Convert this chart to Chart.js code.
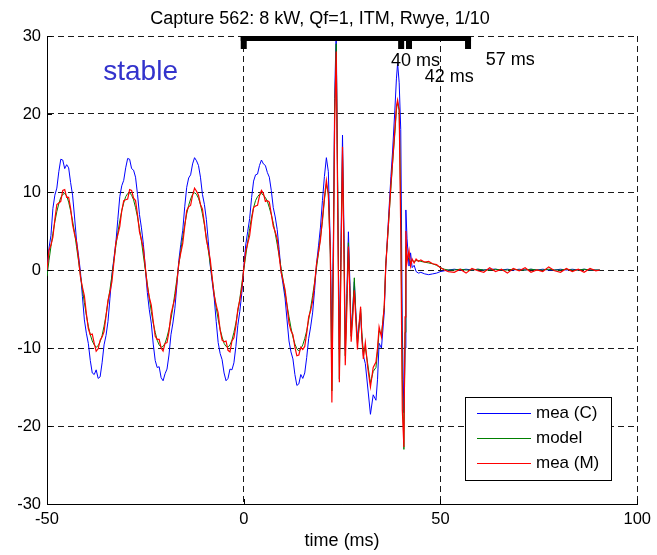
<!DOCTYPE html>
<html><head><meta charset="utf-8">
<script src="https://cdn.jsdelivr.net/npm/chart.js@4.4.0/dist/chart.umd.min.js"></script>
<style>html,body{margin:0;padding:0;background:#fff;overflow:hidden}</style>
</head><body>
<canvas id="c" width="657" height="555"></canvas>
<script>
// ---------------- data ----------------
const timeMs = [
  -50,-49.5,-49,-48.5,-48,-47.5,-47,-46.5,-46,-45.5,
  -45,-44.5,-44,-43.5,-43,-42.5,-42,-41.5,-41,-40.5,
  -40,-39.5,-39,-38.5,-38,-37.5,-37,-36.5,-36,-35.5,
  -35,-34.5,-34,-33.5,-33,-32.5,-32,-31.5,-31,-30.5,
  -30,-29.5,-29,-28.5,-28,-27.5,-27,-26.5,-26,-25.5,
  -25,-24.5,-24,-23.5,-23,-22.5,-22,-21.5,-21,-20.5,
  -20,-19.5,-19,-18.5,-18,-17.5,-17,-16.5,-16,-15.5,
  -15,-14.5,-14,-13.5,-13,-12.5,-12,-11.5,-11,-10.5,
  -10,-9.5,-9,-8.5,-8,-7.5,-7,-6.5,-6,-5.5,
  -5,-4.5,-4,-3.5,-3,-2.5,-2,-1.5,-1,-0.5,
  0,0.5,1,1.5,2,2.5,3,3.5,4,4.5,
  5,5.5,6,6.5,7,7.5,8,8.5,9,9.5,
  10,10.5,11,11.5,12,12.5,13,13.5,14,14.5,
  15,15.5,16,16.5,17,17.5,18,18.5,19,19.5,
  20,
  20.5,21,21.5,22,22.4, 22.8,23.1,23.5,23.9,24.3,
  24.7,25.1,25.5,25.8,26.2, 26.6,27.0,27.3,27.7,28.1,
  28.5,28.9,29.3,29.7,30.0, 30.4,30.9,31.5,32.2,32.9,
  33.6,34.0,34.4,35.0,35.7, 36.1,36.5,37.0,37.4,37.8,
  38.4,38.8,39.1,39.5,39.9, 40.3,40.7,41.0,41.2,41.5,
  42.0,42.4,42.8,43.3,43.8, 44.4,45,46,47,48,
  49,50,51,52,
  53.5,55,56.5,58,59.5,61,62.5,64,65.5,67,
  68.5,70,71.5,73,74.5,76,77.5,79,80.5,82,
  83.5,85,86.5,88,89.5,90.5
];
const meaC = [
  -0.5,2.8,4.4,7.9,9.6,10.5,12.6,14.2,14.1,13.0,
  13.5,13.1,11.2,9.6,6.8,3.8,1.9,-0.2,-3.4,-6.4,
  -8.1,-9.4,-11.6,-13.2,-13.4,-12.8,-13.9,-13.7,-11.9,-9.6,
  -8.4,-6.6,-3.6,-0.6,1.5,3.5,6.5,9.4,10.8,11.5,
  13.1,14.3,14.2,13.0,12.8,11.9,9.7,7.1,5.4,3.3,
  0.2,-2.9,-5.1,-6.8,-9.5,-11.6,-12.5,-12.4,-13.8,-14.2,
  -13.3,-12.7,-10.9,-8.3,-6.8,-4.9,-2.0,1.2,3.3,5.1,
  8.1,10.6,11.8,12.2,13.6,14.4,14.0,13.4,11.9,9.7,
  8.4,6.5,3.6,0.5,-1.6,-3.6,-6.6,-9.3,-10.7,-11.5,
  -13.2,-14.2,-13.9,-12.7,-12.8,-11.9,-9.8,-7.1,-5.3,-3.0,
  0.3,3.2,4.9,6.6,9.3,11.4,12.2,12.3,13.4,14.1,
  13.6,13.4,12.5,11.9,10.2,8.0,6.8,5.2,2.6,-0.2,
  -1.9,-3.6,-6.4,-9.1,-10.5,-11.4,-13.4,-14.8,-14.6,-13.4,
  -13.9,-13.2,-11.2,-8.8,-7.3,-5.5,-2.6,0.8,3.1,5.5,
  8.9,
  12.0,14.4,12.6,3.0,-9.4, 5.0,22.0,31.0,8.0,-10.0,
  3.0,17.3,4.0,-10.3,-3.0, 4.9,-2.0,-8.0,-5.0,-1.5,
  -5.5,-9.0,-7.0,-5.5,-8.5, -11.0,-12.0,-15.0,-18.5,-16.0,
  -16.7,-14.0,-9.4,-10.0,-5.5, 0.5,4.0,8.5,12.0,15.0,
  20.5,24.5,26.5,24.0,18.0, -7.7,-18.3,-10.0,7.7,4.0,
  0.5,2.2,0.3,0.6,-0.2, -0.4,-0.3,-0.5,-0.6,-0.5,
  -0.4,-0.2,-0.1,0.0,
  0.1,0.0,0.1,0.0,0.1,0.0,0.1,0.1,0.0,0.1,
  0.0,0.1,0.0,0.1,0.0,0.1,0.0,0.0,0.1,0.0,
  0.1,0.0,0.1,0.0,0.0,0.0
];
const model = [
  -0.8,1.2,3.0,4.7,6.2,7.5,8.5,9.3,9.7,9.8,
  9.5,8.7,7.6,6.3,4.8,3.0,1.2,-0.7,-2.5,-4.2,
  -5.8,-7.2,-8.3,-9.1,-9.6,-9.9,-9.7,-9.2,-8.4,-7.2,
  -5.8,-4.1,-2.5,-0.7,1.2,3.1,4.8,6.3,7.6,8.6,
  9.4,9.8,9.9,9.6,9.0,8.0,6.8,5.3,3.7,1.8,
  0.0,-1.8,-3.6,-5.3,-6.8,-8.0,-9.0,-9.6,-9.9,-9.8,
  -9.4,-8.6,-7.6,-6.3,-4.8,-3.0,-1.2,0.7,2.5,4.2,
  5.8,7.2,8.3,9.1,9.7,9.9,9.7,9.2,8.4,7.2,
  5.8,4.1,2.5,0.7,-1.2,-3.1,-4.8,-6.3,-7.6,-8.6,
  -9.4,-9.8,-9.9,-9.6,-9.0,-8.0,-6.8,-5.3,-3.7,-1.8,
  0.0,1.8,3.6,5.3,6.8,8.0,8.9,9.4,9.7,9.8,
  9.6,9.3,8.8,8.0,7.1,6.0,4.7,3.3,1.8,0.2,
  -1.3,-2.9,-4.5,-6.0,-7.4,-8.6,-9.5,-10.1,-10.4,-10.1,
  -9.6,-8.8,-7.8,-6.4,-4.9,-3.3,-1.6,0.3,2.2,4.2,
  6.2,
  9.0,11.0,9.8,2.0,-15.5, 3.0,20.0,29.0,10.0,-14.0,
  1.0,15.0,2.0,-11.0,-4.0, 3.5,-3.0,-8.5,-5.5,-1.0,
  -6.0,-9.5,-7.5,-5.0,-8.0, -10.5,-10.0,-12.0,-14.5,-13.0,
  -12.5,-10.5,-7.8,-8.3,-4.8, 0.8,3.5,7.5,10.5,13.5,
  17.5,20.5,21.5,20.5,8.0, -14.0,-23.0,-8.0,3.0,1.5,
  1.5,1.0,1.2,1.1,1.2, 1.2,1.1,1.0,0.9,0.8,
  0.6,0.3,0.1,0.0,
  0.0,0.1,0.0,0.0,0.1,0.0,0.0,0.1,0.0,0.0,
  0.1,0.0,0.0,0.1,0.0,0.0,0.1,0.0,0.0,0.1,
  0.0,0.0,0.1,0.0,0.0,0.0
];
const meaM = [
  0.0,2.5,3.2,4.2,6.5,8.4,8.6,8.8,10.2,10.3,
  9.3,9.3,7.9,5.8,4.6,3.6,1.5,-0.9,-2.2,-3.3,
  -5.6,-7.5,-8.3,-8.2,-9.4,-10.4,-10.1,-9.0,-8.6,-7.9,
  -5.9,-3.9,-2.8,-1.5,1.0,3.5,4.5,5.6,7.6,8.9,
  9.0,9.1,10.3,10.2,9.2,8.9,7.1,4.9,3.9,2.7,
  0.3,-2.1,-3.5,-4.5,-6.6,-8.5,-8.9,-8.9,-10.0,-10.4,
  -9.4,-9.3,-7.9,-5.7,-4.6,-3.6,-1.6,0.9,2.2,3.4,
  5.6,7.6,8.1,8.3,9.6,10.5,10.1,9.6,8.4,7.8,
  6.0,3.9,2.7,1.3,-1.1,-3.3,-4.5,-5.5,-7.7,-9.0,
  -9.2,-9.1,-10.3,-10.5,-9.1,-8.7,-7.2,-5.0,-3.9,-2.4,
  0.2,2.4,3.4,4.4,6.4,8.0,8.2,8.3,9.5,10.2,
  9.8,8.8,8.9,8.7,7.2,5.6,4.9,4.0,1.8,-0.3,
  -1.4,-2.5,-4.6,-6.8,-7.8,-8.3,-9.9,-11.0,-10.9,-9.9,
  -10.2,-9.8,-8.1,-6.0,-5.2,-4.0,-1.8,0.8,2.3,3.9,
  6.6,
  9.3,11.5,9.6,2.5,-17.0, 2.0,19.0,28.0,7.0,-14.4,
  0.5,15.8,1.0,-12.2,-5.0, 3.0,-3.5,-9.2,-6.0,-2.6,
  -6.5,-10.2,-7.0,-4.7,-8.5, -11.4,-9.3,-12.5,-15.0,-12.5,
  -11.8,-10.0,-7.3,-8.6,-4.7, 0.5,3.8,7.7,11.0,13.7,
  18.0,21.0,21.8,20.5,5.0, -18.0,-22.7,-6.0,5.0,1.0,
  2.5,0.5,1.4,0.9,1.4, 1.1,1.3,1.0,1.1,0.8,
  0.7,0.3,0.0,-0.2,
  -0.3,0.1,-0.4,0.2,-0.1,-0.3,0.3,-0.2,0.1,-0.4,
  0.2,-0.1,0.3,-0.3,0.0,-0.2,0.4,-0.1,-0.3,0.2,
  -0.2,0.1,-0.3,0.2,-0.1,0.0
];
const seriesLabels = ['mea (C)','model','mea (M)'];
const xTickValues = [-50, 0, 50, 100];
const yTickValues = [-30, -20, -10, 0, 10, 20, 30];
const markerTimes = [0, 40, 42, 57];          // bracket ticks (ms)
const bracketLevel = 30;                      // value where the bracket sits
const markerLabels = ['40 ms', '42 ms', '57 ms'];
const markerLabelX = [37.4, 46.0, 61.5];
const markerLabelY = [26.8, 24.7, 26.9];
const stableText = 'stable', stableX = -35.7, stableY = 25.3;
const titleText = 'Capture 562: 8 kW, Qf=1, ITM, Rwye, 1/10';
const xTitle = 'time (ms)';

if (![meaC, model, meaM].every(a => a.length === timeMs.length)) {
  throw new Error('length mismatch ' + timeMs.length + ' ' + meaC.length + ' ' + model.length + ' ' + meaM.length);
}

// ---------------- chart ----------------
const FONT = "'Liberation Sans', Arial, Helvetica, sans-serif";
Chart.defaults.font.family = FONT;
Chart.defaults.color = '#000';

const toPts = arr => timeMs.map((t, i) => ({x: t, y: arr[i]}));
const colors = ['#0000ff', '#008000', '#ff0000'];

const inwardTicks = {
  id: 'inwardTicks',
  afterDraw(chart) {
    const {ctx, chartArea: ca, scales: {x, y}} = chart;
    ctx.save();
    ctx.strokeStyle = '#000';
    ctx.lineWidth = 1;
    ctx.beginPath();
    yTickValues.forEach(v => {
      const py = Math.round(y.getPixelForValue(v)) + 0.5;
      ctx.moveTo(ca.left, py); ctx.lineTo(ca.left + 5, py);
    });
    xTickValues.forEach(v => {
      const px = Math.round(x.getPixelForValue(v)) + 0.5;
      ctx.moveTo(px, ca.bottom); ctx.lineTo(px, ca.bottom - 5);
    });
    ctx.stroke();
    ctx.restore();
  }
};

const annotations = {
  id: 'annotations',
  afterDatasetsDraw(chart) {
    const {ctx, scales: {x, y}} = chart;
    ctx.save();
    const yTop = Math.round(y.getPixelForValue(bracketLevel));
    const px = markerTimes.map(t => x.getPixelForValue(t));
    ctx.fillStyle = '#000';
    ctx.fillRect(px[0] - 3, yTop, px[px.length - 1] - px[0] + 6, 5);
    px.forEach(p => ctx.fillRect(p - 3, yTop, 6, 13));
    ctx.font = '18px ' + FONT;
    ctx.textAlign = 'left';
    ctx.textBaseline = 'middle';
    markerLabels.forEach((s, i) => {
      ctx.fillText(s, x.getPixelForValue(markerLabelX[i]), y.getPixelForValue(markerLabelY[i]));
    });
    ctx.fillStyle = '#3333cc';
    ctx.font = '28px ' + FONT;
    ctx.fillText(stableText, x.getPixelForValue(stableX), y.getPixelForValue(stableY));
    ctx.restore();
  }
};

const boxLegend = {
  id: 'boxLegend',
  afterDraw(chart) {
    const {ctx, chartArea: ca} = chart;
    const w = 146, h = 83;
    const left = Math.round(ca.right - 26 - w), top = Math.round(ca.bottom - 24 - h);
    ctx.save();
    ctx.fillStyle = '#fff';
    ctx.fillRect(left, top, w, h);
    ctx.strokeStyle = '#000';
    ctx.lineWidth = 1;
    ctx.strokeRect(left + 0.5, top + 0.5, w, h);
    ctx.font = '17px ' + FONT;
    ctx.textAlign = 'left';
    ctx.textBaseline = 'middle';
    chart.data.datasets.forEach((ds, i) => {
      const yy = top + 16 + i * 25 + 0.5;
      ctx.strokeStyle = ds.borderColor;
      ctx.beginPath();
      ctx.moveTo(left + 12, yy); ctx.lineTo(left + 66, yy);
      ctx.stroke();
      ctx.fillStyle = '#000';
      ctx.fillText(ds.label, left + 71, yy);
    });
    ctx.restore();
  }
};

const gridOpts = {color: '#1a1a1a', lineWidth: 1, drawTicks: false, tickLength: 0};
const borderOpts = {display: true, color: '#000', width: 1, dash: [6, 4]};

new Chart(document.getElementById('c'), {
  type: 'line',
  data: {
    datasets: [meaC, model, meaM].map((arr, i) => ({
      label: seriesLabels[i],
      data: toPts(arr),
      borderColor: colors[i],
      backgroundColor: colors[i],
      borderWidth: i === 2 ? 1.2 : 1,
      pointRadius: 0,
      tension: 0,
      fill: false,
      order: 3 - i
    }))
  },
  options: {
    responsive: false,
    animation: false,
    devicePixelRatio: 1,
    layout: {padding: {left: 0, right: 17, top: 0, bottom: 0}},
    plugins: {
      legend: {display: false},
      tooltip: {enabled: false},
      title: {
        display: true, text: titleText, color: '#000',
        font: {size: 18, weight: 'normal', family: FONT},
        padding: {top: 8, bottom: 6.4}
      }
    },
    scales: {
      x: {
        type: 'linear', min: -50, max: 100,
        afterBuildTicks: s => { s.ticks = xTickValues.map(v => ({value: v})); },
        afterFit: s => { s.height = 51; },
        ticks: {font: {size: 16.5}, color: '#000', padding: 6, maxRotation: 0, autoSkip: false},
        grid: gridOpts,
        border: borderOpts,
        title: {display: true, text: xTitle, color: '#000', font: {size: 18}, padding: {top: 0, bottom: 3}}
      },
      y: {
        type: 'linear', min: -30, max: 30,
        afterBuildTicks: s => { s.ticks = yTickValues.map(v => ({value: v})); },
        afterFit: s => { s.width = 47; },
        ticks: {font: {size: 16.5}, color: '#000', padding: 6},
        grid: gridOpts,
        border: borderOpts
      }
    }
  },
  plugins: [annotations, inwardTicks, boxLegend]
});
</script>
</body></html>
